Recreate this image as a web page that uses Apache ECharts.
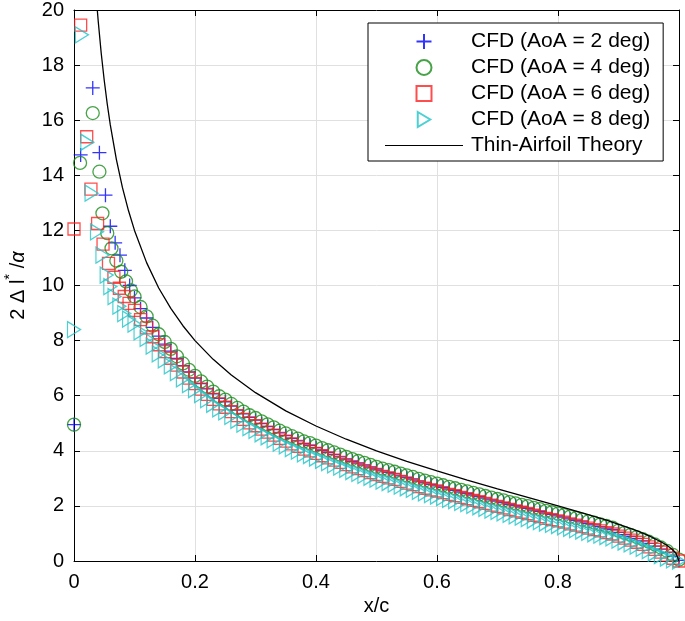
<!DOCTYPE html>
<html><head><meta charset="utf-8">
<script src="https://cdn.jsdelivr.net/npm/echarts@6/dist/echarts.min.js"></script>
<style>html,body{margin:0;padding:0;background:#fff}#c{width:685px;height:621px}</style>
</head><body><div id="c"></div>
<script>
// shared chordwise stations for the main body of the CFD data
const xGrid = [0.10,0.11,0.12,0.13,0.14,0.15,0.16,0.17,0.18,0.19,
0.20,0.21,0.22,0.23,0.24,0.25,0.26,0.27,0.28,0.29,
0.30,0.31,0.32,0.33,0.34,0.35,0.36,0.37,0.38,0.39,
0.40,0.41,0.42,0.43,0.44,0.45,0.46,0.47,0.48,0.49,
0.50,0.51,0.52,0.53,0.54,0.55,0.56,0.57,0.58,0.59,
0.60,0.61,0.62,0.63,0.64,0.65,0.66,0.67,0.68,0.69,
0.70,0.71,0.72,0.73,0.74,0.75,0.76,0.77,0.78,0.79,
0.80,0.81,0.82,0.83,0.84,0.85,0.86,0.87,0.88,0.89,
0.90,0.91,0.92,0.93,0.94,0.95,0.96,0.97,0.98,0.99,1.00];

// AoA = 2 deg
const aoa2LeX = [0,0.011,0.031,0.042,0.052,0.060,0.068,0.076,0.084,0.092];
const aoa2LeY = [4.95,14.74,17.17,14.82,13.28,12.15,11.55,11.1,10.55,10.0];
const aoa2Y = [9.55,9.16,8.82,8.48,8.16,7.87,7.62,7.35,7.09,6.86,
6.64,6.44,6.25,6.07,5.90,5.78,5.62,5.48,5.34,5.21,
5.11,4.99,4.88,4.77,4.65,4.55,4.45,4.36,4.26,4.20,
4.11,4.02,3.94,3.86,3.78,3.70,3.62,3.55,3.48,3.41,
3.34,3.27,3.22,3.16,3.09,3.03,2.97,2.90,2.84,2.78,
2.73,2.67,2.61,2.56,2.50,2.45,2.39,2.34,2.28,2.22,
2.17,2.12,2.06,2.01,1.96,1.91,1.85,1.80,1.74,1.69,
1.64,1.59,1.53,1.48,1.42,1.36,1.31,1.25,1.19,1.14,
1.04,0.96,0.89,0.81,0.73,0.64,0.54,0.43,0.31,0.17,0.02];

// AoA = 4 deg
const aoa4LeX = [0,0.010,0.031,0.042,0.047,0.055,0.062,0.070,0.078,0.086,0.094];
const aoa4LeY = [4.95,14.45,16.26,14.13,12.62,11.9,11.35,10.9,10.5,10.15,9.82];
const aoa4Y = [9.60,9.22,8.88,8.54,8.23,7.95,7.70,7.43,7.17,6.94,
6.72,6.52,6.33,6.15,5.98,5.86,5.70,5.56,5.42,5.29,
5.19,5.07,4.96,4.85,4.73,4.63,4.53,4.44,4.34,4.28,
4.19,4.10,4.02,3.94,3.86,3.78,3.70,3.63,3.56,3.49,
3.42,3.35,3.30,3.24,3.17,3.11,3.05,2.98,2.92,2.86,
2.81,2.75,2.69,2.64,2.58,2.53,2.47,2.42,2.36,2.30,
2.25,2.20,2.14,2.09,2.04,1.99,1.93,1.88,1.82,1.77,
1.72,1.67,1.61,1.56,1.50,1.44,1.39,1.33,1.27,1.21,
1.10,1.02,0.95,0.87,0.79,0.70,0.60,0.49,0.37,0.22,0.05];

// AoA = 6 deg
const aoa6LeX = [0,0.011,0.021,0.028,0.039,0.048,0.057,0.066,0.075,0.083,0.091];
const aoa6LeY = [12.05,19.45,15.4,13.5,12.25,11.5,10.8,10.3,9.9,9.6,9.35];
const aoa6Y = [9.10,8.76,8.46,8.14,7.85,7.60,7.36,7.11,6.86,6.64,
6.44,6.24,6.05,5.87,5.70,5.58,5.42,5.28,5.14,5.01,
4.91,4.79,4.68,4.57,4.45,4.35,4.25,4.16,4.06,4.00,
3.91,3.82,3.74,3.66,3.58,3.50,3.42,3.35,3.28,3.21,
3.14,3.07,3.02,2.96,2.89,2.83,2.77,2.70,2.64,2.58,
2.54,2.48,2.42,2.37,2.31,2.26,2.20,2.15,2.09,2.03,
1.98,1.93,1.87,1.82,1.77,1.72,1.66,1.61,1.55,1.50,
1.46,1.41,1.35,1.30,1.25,1.19,1.14,1.09,1.03,0.98,
0.90,0.83,0.76,0.68,0.60,0.51,0.42,0.32,0.21,0.10,0.0];

// AoA = 8 deg
const aoa8LeX = [0,0.013,0.022,0.029,0.038,0.047,0.054,0.060,0.067,0.075,0.083,0.091];
const aoa8LeY = [8.4,19.1,15.2,13.35,11.95,11.1,10.38,9.96,9.6,9.25,8.98,8.78];
const aoa8Y = [8.60,8.32,8.08,7.80,7.52,7.30,7.08,6.84,6.61,6.40,
6.22,6.04,5.86,5.69,5.52,5.41,5.25,5.11,4.97,4.84,
4.74,4.62,4.51,4.40,4.28,4.18,4.08,3.99,3.89,3.83,
3.74,3.65,3.57,3.49,3.41,3.33,3.25,3.18,3.11,3.04,
2.97,2.90,2.85,2.79,2.72,2.66,2.60,2.53,2.47,2.41,
2.36,2.30,2.24,2.19,2.13,2.08,2.02,1.97,1.91,1.85,
1.80,1.75,1.69,1.64,1.59,1.54,1.48,1.43,1.38,1.33,
1.29,1.24,1.19,1.14,1.09,1.04,0.99,0.94,0.89,0.84,
0.76,0.69,0.62,0.54,0.46,0.38,0.29,0.20,0.11,0.04,0.0];

// Thin-airfoil theory curve
const theoryX = [0.0385,0.04,0.045,0.05,0.055,0.06,0.07,0.08,0.09,0.10,0.12,0.14,0.16,0.18,0.20,0.23,0.26,0.30,0.35,0.40,0.45,0.50,0.55,0.60,0.65,0.70,0.75,0.80,0.85,0.88,0.91,0.93,0.95,0.97,0.98,0.99,0.995,1.0];
const theoryY = [20.0,19.6,18.43,17.44,16.58,15.83,14.58,13.56,12.72,12.0,10.83,9.91,9.17,8.54,8.0,7.32,6.75,6.11,5.45,4.90,4.42,4.00,3.62,3.27,2.94,2.62,2.31,2.00,1.68,1.48,1.26,1.10,0.92,0.70,0.57,0.40,0.28,0.0];

const seriesNames = ['CFD (AoA = 2 deg)','CFD (AoA = 4 deg)','CFD (AoA = 6 deg)','CFD (AoA = 8 deg)','Thin-Airfoil Theory'];
const xTicks = [0,0.2,0.4,0.6,0.8,1];
const yTicks = [0,2,4,6,8,10,12,14,16,18,20];

function pairs(xs, ys){ return xs.map((x,i)=>[x, ys[i]]); }
function full(leX, leY, ys){ return pairs(leX, leY).concat(pairs(xGrid, ys)); }

const font = '"Liberation Sans", Arial, Helvetica, sans-serif';
const chart = echarts.init(document.getElementById('c'), null, {renderer:'canvas'});

const axisCommon = {
  type:'value',
  axisLine:{show:true, onZero:false, lineStyle:{color:'#000', width:1}},
  axisTick:{show:true, inside:true, length:6, lineStyle:{color:'#000'}},
};

const plusPath = 'path://M0,5L10,5M5,0L5,10';
const triPath = 'path://M0,0L10,6L0,12Z';
const squarePath = 'path://M0,0L10,0L10,10L0,10Z';
const linePath = 'path://M0,0L100,0L100,1.6L0,1.6Z';

const option = {
  animation:false,
  backgroundColor:'#fff',
  grid:{left:74, top:10, right:6, bottom:60, containLabel:false, outerBoundsMode:'none'},
  xAxis:[
    Object.assign({}, axisCommon, {
      position:'bottom', min:xTicks[0], max:xTicks[xTicks.length-1], interval:0.2,
      axisLabel:{color:'#000', fontSize:20, fontFamily:font, margin:11},
      splitLine:{show:true, lineStyle:{color:'#e0e0e0', width:1}},
      name:'x/c', nameLocation:'middle', nameGap:34,
      nameTextStyle:{color:'#000', fontSize:20, fontFamily:font}
    }),
    Object.assign({}, axisCommon, {
      position:'top', min:0, max:1, interval:0.2,
      axisLabel:{show:false}, splitLine:{show:false}
    })
  ],
  yAxis:[
    Object.assign({}, axisCommon, {
      position:'left', min:yTicks[0], max:yTicks[yTicks.length-1], interval:2,
      axisLabel:{color:'#000', fontSize:20, fontFamily:font, margin:10},
      splitLine:{show:true, lineStyle:{color:'#e0e0e0', width:1}},
      name:'{a|2 Δ l}{b|*}{a| /}{c|α}', nameLocation:'middle', nameGap:46, nameRotate:90,
      nameTextStyle:{color:'#000', fontSize:20, fontFamily:font,
        rich:{
          a:{fontSize:20, fontFamily:font, color:'#000', lineHeight:26, verticalAlign:'bottom'},
          b:{fontSize:15, fontFamily:font, color:'#000', lineHeight:26, verticalAlign:'top'},
          c:{fontSize:20, fontFamily:font, color:'#000', fontStyle:'italic', lineHeight:26, verticalAlign:'bottom'}
        }}
    }),
    Object.assign({}, axisCommon, {
      position:'right', min:0, max:20, interval:2,
      axisLabel:{show:false}, splitLine:{show:false}
    })
  ],
  legend:{
    orient:'vertical', left:368, top:23,
    padding:[8,13,5,17], itemWidth:78, itemHeight:15, itemGap:5,
    borderColor:'#000', borderWidth:1, backgroundColor:'#fff', borderRadius:0,
    textStyle:{fontSize:21, fontFamily:font, color:'#000', padding:[0,0,0,3]},
    data:[
      {name:seriesNames[0]},
      {name:seriesNames[1]},
      {name:seriesNames[2], icon:squarePath},
      {name:seriesNames[3]},
      {name:seriesNames[4], icon:linePath}
    ]
  },
  series:[
    {name:seriesNames[0], type:'scatter', clip:false, data:full(aoa2LeX, aoa2LeY, aoa2Y),
     symbol:plusPath, symbolSize:14,
     itemStyle:{color:'rgba(0,0,0,0)', borderColor:'#0000ff', borderWidth:1.3}},
    {name:seriesNames[1], type:'scatter', clip:false, data:full(aoa4LeX, aoa4LeY, aoa4Y),
     symbol:'circle', symbolSize:13,
     itemStyle:{color:'rgba(0,0,0,0)', borderColor:'#1a8c1a', borderWidth:1.3}},
    {name:seriesNames[2], type:'scatter', clip:false, data:full(aoa6LeX, aoa6LeY, aoa6Y),
     symbol:'rect', symbolSize:12,
     itemStyle:{color:'rgba(0,0,0,0)', borderColor:'#ff2020', borderWidth:1.3}},
    {name:seriesNames[3], type:'scatter', clip:false, data:full(aoa8LeX, aoa8LeY, aoa8Y),
     symbol:triPath, symbolSize:[13,16],
     itemStyle:{color:'rgba(0,0,0,0)', borderColor:'#1fc4c8', borderWidth:1.3}},
    {name:seriesNames[4], type:'line', data:pairs(theoryX, theoryY),
     symbol:'none', showSymbol:false, smooth:false, clip:true,
     lineStyle:{color:'#000', width:1.3}, itemStyle:{color:'#000'}, z:5}
  ]
};
chart.setOption(option);
</script></body></html>
